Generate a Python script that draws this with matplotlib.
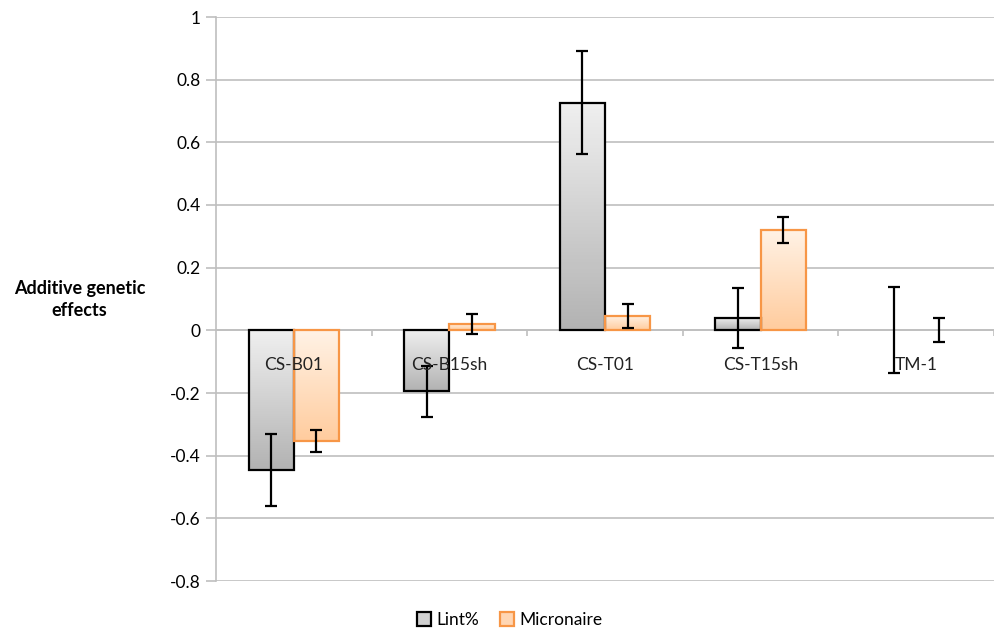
import numpy as np
import matplotlib
matplotlib.use("Agg")
import matplotlib.pyplot as plt
from matplotlib.patches import Patch

categories = ["CS-B01", "CS-B15sh", "CS-T01", "CS-T15sh", "TM-1"]
lint = [-0.445, -0.195, 0.727, 0.040, 0.0]
lint_err = [0.115, 0.082, 0.165, 0.095, 0.137]
micronaire = [-0.352, 0.020, 0.045, 0.320, 0.0]
micronaire_err = [0.035, 0.033, 0.038, 0.041, 0.038]
yticks = [-0.8, -0.6, -0.4, -0.2, 0, 0.2, 0.4, 0.6, 0.8, 1]

GRID = "#bfbfbf"
ORANGE_EDGE = "#f79646"

plt.rcParams["font.family"] = ["Lato", "DejaVu Sans"]

fig = plt.figure(figsize=(9.94, 6.33), dpi=100)
ax = fig.add_axes([216 / 994, 52 / 633, 1 - 216 / 994, 564 / 633])

x = np.arange(len(categories))
w = 0.29


def gradient_bars(bars, top_rgb, bot_rgb):
    grad = np.linspace(0, 1, 64)[:, None, None]
    img = (1 - grad) * np.array(top_rgb)[None, None, :] + grad * np.array(bot_rgb)[None, None, :]
    for b in bars:
        h = b.get_height()
        if h == 0:
            b.set_linewidth(0)  # zero bar: nothing visible
            continue
        x0 = b.get_x()
        y0, y1 = sorted([b.get_y(), b.get_y() + h])
        ax.imshow(img, extent=[x0, x0 + b.get_width(), y0, y1],
                  aspect="auto", origin="upper", zorder=2)


b1 = ax.bar(x - w / 2, lint, w, facecolor="none", edgecolor="black", lw=1.6, zorder=3)
b2 = ax.bar(x + w / 2, micronaire, w, facecolor="none", edgecolor=ORANGE_EDGE, lw=1.6, zorder=3)
gradient_bars(b1, (0.94, 0.94, 0.94), (0.70, 0.70, 0.70))
gradient_bars(b2, (1.0, 0.95, 0.90), (1.0, 0.80, 0.62))

ax.errorbar(x - w / 2, lint, yerr=lint_err, fmt="none", ecolor="black",
            elinewidth=1.6, capsize=4, capthick=1.6, zorder=4)
ax.errorbar(x + w / 2, micronaire, yerr=micronaire_err, fmt="none", ecolor="black",
            elinewidth=1.6, capsize=4, capthick=1.6, zorder=4)

ax.set_xlim(-0.5, (994 - 216) / 158 - 0.5)
ax.set_ylim(-0.8, 1.0)
ax.set_yticks(yticks)
ax.set_yticklabels([f"{v:g}" for v in yticks], fontsize=12.5)
ax.yaxis.grid(True, color=GRID, lw=1.2)
ax.set_axisbelow(True)

# x axis line crosses at zero, ticks between categories
ax.spines["bottom"].set_position(("data", 0))
ax.spines["bottom"].set_color(GRID)
ax.spines["bottom"].set_linewidth(1.2)
ax.spines["left"].set_color(GRID)
ax.spines["left"].set_linewidth(1.2)
ax.spines["top"].set_visible(False)
ax.spines["right"].set_visible(False)
ax.set_xticks(np.arange(len(categories)) + 0.5)
ax.set_xticklabels([])
ax.tick_params(axis="x", length=4, color=GRID, width=1.2)
ax.tick_params(axis="y", length=7, color=GRID, width=1.2, pad=4)

for i, c in enumerate(categories):
    ax.annotate(c, xy=(i, 0), xytext=(0, -19), textcoords="offset points",
                ha="center", va="top", fontsize=12.5, color="#222222", zorder=5)

fig.text(0.080, 0.527, "Additive genetic\neffects", ha="center", va="center",
         fontsize=13, fontweight="bold", linespacing=1.3)

handles = [Patch(facecolor="#d0d0d0", edgecolor="black", lw=1.6, label="Lint%"),
           Patch(facecolor="#ffd6b3", edgecolor=ORANGE_EDGE, lw=1.6, label="Micronaire")]
fig.legend(handles=handles, loc="center", bbox_to_anchor=(0.513, 0.021), ncol=2,
           frameon=False, fontsize=12.5, handlelength=0.8, handleheight=0.9,
           handletextpad=0.3, columnspacing=1.2)

fig.savefig("out.png", dpi=100)
